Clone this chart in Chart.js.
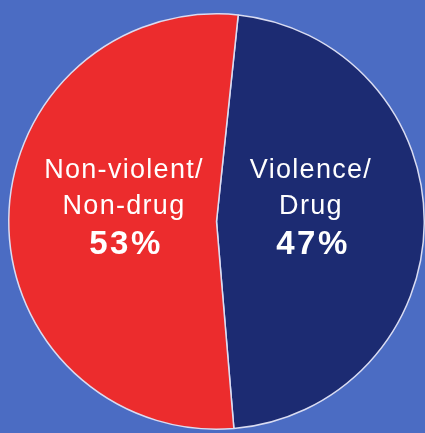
<!DOCTYPE html>
<html>
<head>
<meta charset="utf-8">
<script src="https://cdn.jsdelivr.net/npm/chart.js@4"></script>
<style>
  html, body { margin: 0; padding: 0; background: #4b6cc3; }
  #wrap { width: 425px; height: 433px; position: relative; }
</style>
</head>
<body>
<div id="wrap"><canvas id="pie"></canvas></div>
<script>
// Data
const labelLines = [["Violence/", "Drug"], ["Non-violent/", "Non-drug"]];
const shares = [47, 53];
const sliceColors = ["#1c2b72", "#ec2c2d"];

// draws the two text lines + percent inside each slice
const sliceText = {
  id: "sliceText",
  afterDatasetsDraw(chart) {
    const ctx = chart.ctx;
    const meta = chart.getDatasetMeta(0);
    meta.data.forEach((arc, i) => {
      const p = arc.getProps(["x", "y", "startAngle", "endAngle", "outerRadius"], true);
      const mid = (p.startAngle + p.endAngle) / 2;
      const r = p.outerRadius * 0.45;
      const cx = p.x + Math.cos(mid) * r;
      const cy = p.y;
      ctx.save();
      ctx.fillStyle = "#ffffff";
      ctx.textAlign = "center";
      ctx.textBaseline = "alphabetic";
      ctx.font = "27px 'Liberation Sans', Arial, sans-serif";
      ctx.letterSpacing = "1.3px";
      ctx.fillText(labelLines[i][0], cx + 1, cy - 44);
      ctx.fillText(labelLines[i][1], cx + 1, cy - 8);
      ctx.font = "bold 33px 'Liberation Sans', Arial, sans-serif";
      ctx.letterSpacing = "2.5px";
      ctx.fillText(shares[i] + "%", cx + 3, cy + 32);
      ctx.restore();
    });
  }
};

new Chart(document.getElementById("pie").getContext("2d"), {
  type: "pie",
  data: {
    labels: labelLines.map(l => l.join(" ")),
    datasets: [{
      data: shares,
      backgroundColor: sliceColors,
      borderColor: "#d9dcf2",
      borderWidth: 1.5
    }]
  },
  options: {
    responsive: true,
    maintainAspectRatio: false,
    animation: false,
    rotation: 6,
    layout: { padding: { left: 8, right: 0, top: 11, bottom: 1 } },
    plugins: { legend: { display: false }, tooltip: { enabled: false } }
  },
  plugins: [sliceText]
});
</script>
</body>
</html>
